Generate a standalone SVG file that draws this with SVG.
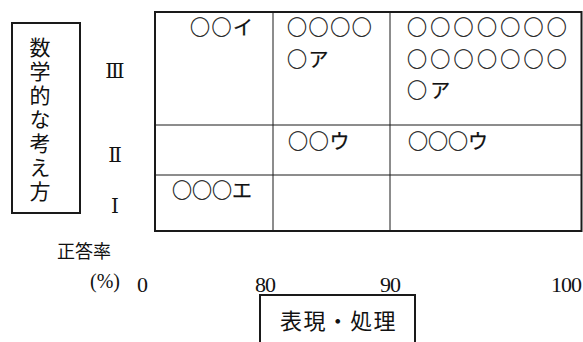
<svg xmlns="http://www.w3.org/2000/svg" width="583" height="342" viewBox="0 0 583 342">
<style>
.ln{stroke:#1a1a1a;fill:none}
.out{stroke-width:2}
.in{stroke-width:1}
.jp{font-family:"Noto Sans CJK JP","Noto Sans CJK SC",sans-serif;fill:#111}
.cell{font-family:"Noto Sans CJK JP","Noto Sans CJK SC",sans-serif;fill:#111;font-size:20px;stroke:#111;stroke-width:0.25}
.num{font-family:"Liberation Serif","DejaVu Serif",serif;fill:#111}
.rom{font-family:"DejaVu Serif","Liberation Serif",serif;fill:#111;font-size:20px;text-anchor:middle}
</style>
<rect width="583" height="342" fill="#fff"/>
<g id="y-axis-label">
<rect class="ln out" x="12" y="23" width="68" height="190"/>
<text class="jp" font-size="21" writing-mode="vertical-rl" letter-spacing="2.9" x="40" y="36.8">数学的な考え方</text>
</g>
<g id="levels">
<text class="rom" x="115" y="78">Ⅲ</text>
<text class="rom" x="115" y="162">Ⅱ</text>
<text class="rom" x="115" y="213">Ⅰ</text>
</g>
<g id="grid">
<rect class="ln out" x="155" y="12" width="426.5" height="219"/>
<line class="ln in" x1="273" y1="12" x2="273" y2="231"/>
<line class="ln in" x1="390" y1="12" x2="390" y2="231"/>
<line class="ln in" x1="155" y1="125" x2="581.5" y2="125"/>
<line class="ln in" x1="155" y1="175" x2="581.5" y2="175"/>
</g>
<g id="cell-3-1"><text class="cell" letter-spacing="1.5" x="190" y="34.6">○○イ</text></g>
<g id="cell-3-2">
<text class="cell" font-size="21" letter-spacing="1.6" x="287" y="35">○○○○</text>
<text class="cell" font-size="21" letter-spacing="1.6" x="287" y="67">○ア</text>
</g>
<g id="cell-3-3">
<text class="cell" font-size="22" letter-spacing="3.3" x="407" y="35">○○○○○○○</text>
<text class="cell" font-size="22" letter-spacing="3.3" x="407" y="67">○○○○○○○</text>
<text class="cell" font-size="22" letter-spacing="3.3" x="407" y="98">○ア</text>
</g>
<g id="cell-2-2"><text class="cell" letter-spacing="0.8" x="288" y="148.5">○○ウ</text></g>
<g id="cell-2-3"><text class="cell" x="408" y="148.5">○○○ウ</text></g>
<g id="cell-1-1"><text class="cell" x="172" y="198">○○○エ</text></g>
<g id="axis">
<text class="jp" font-size="18" x="57" y="258">正答率</text>
<text class="num" font-size="20" x="90" y="288">(%)</text>
<text class="num" font-size="22" x="137" y="292">0</text>
<text class="num" font-size="22" letter-spacing="-1" x="255" y="292">80</text>
<text class="num" font-size="22" letter-spacing="-1" x="380" y="292">90</text>
<text class="num" font-size="22" letter-spacing="-1" x="551" y="292">100</text>
</g>
<g id="x-axis-label">
<rect class="ln out" x="260" y="295" width="155" height="60"/>
<text class="jp" font-size="22" letter-spacing="1.4" x="280" y="329">表現・処理</text>
</g>
</svg>
